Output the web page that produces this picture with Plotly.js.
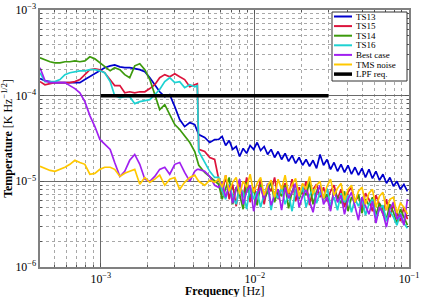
<!DOCTYPE html>
<html><head><meta charset="utf-8">
<script src="https://cdn.plot.ly/plotly-3.0.1.min.js"></script>
<style>html,body{margin:0;padding:0;background:#fff}#chart{width:422px;height:297px}</style>
</head><body><div id="chart"></div>
<script>
// Frequency grid [Hz]
const freq = [4.03e-4,4.34e-4,4.68e-4,5.04e-4,5.43e-4,5.85e-4,6.30e-4,6.79e-4,7.31e-4,7.88e-4,8.49e-4,9.15e-4,9.86e-4,1.06e-3,1.15e-3,1.23e-3,1.33e-3,1.43e-3,1.54e-3,1.66e-3,1.79e-3,1.93e-3,2.08e-3,2.24e-3,2.41e-3,2.60e-3,2.80e-3,3.02e-3,3.25e-3,3.50e-3,3.78e-3,4.07e-3,4.23e-3,4.32e-3,4.72e-3,5.09e-3,5.48e-3,
5.82e-3,6.13e-3,6.46e-3,6.81e-3,7.17e-3,7.56e-3,7.96e-3,8.39e-3,8.84e-3,9.31e-3,9.81e-3,1.034e-2,1.089e-2,1.148e-2,1.209e-2,1.274e-2,1.342e-2,1.414e-2,1.490e-2,1.570e-2,1.654e-2,1.743e-2,1.837e-2,1.935e-2,2.039e-2,2.148e-2,2.263e-2,2.384e-2,2.512e-2,2.647e-2,2.789e-2,2.938e-2,3.096e-2,3.262e-2,3.436e-2,3.621e-2,3.815e-2,4.019e-2,4.234e-2,4.461e-2,4.700e-2,4.952e-2,5.218e-2,5.497e-2,5.792e-2,6.102e-2,6.429e-2,6.776e-2,7.138e-2,7.520e-2,7.925e-2,8.349e-2,8.797e-2,9.268e-2,9.766e-2];

// Temperature noise [K Hz^-1/2]
const ts13 = [1.58e-4,1.50e-4,1.46e-4,1.42e-4,1.42e-4,1.42e-4,1.42e-4,1.42e-4,1.42e-4,1.54e-4,1.66e-4,1.80e-4,1.95e-4,2.12e-4,2.23e-4,2.29e-4,2.17e-4,2.12e-4,2.12e-4,2.06e-4,2.01e-4,1.90e-4,1.62e-4,1.34e-4,1.11e-4,9.74e-5,1.03e-4,7.45e-5,5.26e-5,4.36e-5,4.85e-5,4.60e-5,3.71e-5,3.52e-5,3.25e-5,2.84e-5,3.08e-5,
3.08e-5,3.34e-5,2.62e-5,3.00e-5,2.36e-5,2.55e-5,1.95e-5,2.42e-5,2.12e-5,2.62e-5,2.36e-5,2.84e-5,2.29e-5,2.55e-5,2.06e-5,2.36e-5,1.90e-5,2.23e-5,1.80e-5,2.12e-5,1.71e-5,2.01e-5,1.62e-5,1.90e-5,1.54e-5,1.80e-5,1.50e-5,1.76e-5,1.42e-5,2.06e-5,1.54e-5,1.80e-5,1.38e-5,1.66e-5,1.31e-5,1.58e-5,1.27e-5,1.54e-5,1.21e-5,1.46e-5,1.18e-5,1.42e-5,1.11e-5,1.38e-5,1.08e-5,1.31e-5,1.03e-5,1.21e-5,9.48e-6,1.11e-5,8.75e-6,1.00e-5,8.07e-6,9.23e-6,7.65e-6];
const ts15 = [1.46e-4,1.34e-4,1.38e-4,1.42e-4,1.42e-4,1.42e-4,1.42e-4,1.46e-4,1.54e-4,1.76e-4,2.01e-4,2.06e-4,2.01e-4,1.85e-4,1.54e-4,1.31e-4,1.31e-4,1.08e-4,1.11e-4,1.08e-4,1.11e-4,1.11e-4,1.21e-4,1.34e-4,1.62e-4,1.76e-4,1.66e-4,1.80e-4,1.66e-4,1.54e-4,1.27e-4,1.34e-4,1.38e-4,2.36e-5,2.23e-5,1.90e-5,1.80e-5,
1.06e-5,7.06e-6,1.18e-5,6.18e-6,9.23e-6,5.12e-6,9.74e-6,6.52e-6,1.11e-5,5.70e-6,8.52e-6,6.87e-6,1.06e-5,5.40e-6,8.99e-6,7.65e-6,1.11e-5,6.18e-6,8.07e-6,9.48e-6,6.69e-6,1.06e-5,5.85e-6,8.52e-6,7.06e-6,1.00e-5,5.26e-6,8.07e-6,9.23e-6,6.52e-6,8.52e-6,5.85e-6,7.65e-6,8.99e-6,6.18e-6,8.07e-6,4.99e-6,7.45e-6,8.52e-6,5.70e-6,6.87e-6,4.73e-6,7.25e-6,6.18e-6,4.48e-6,6.87e-6,5.40e-6,4.13e-6,6.18e-6,3.82e-6,5.26e-6,4.25e-6,3.43e-6,4.99e-6,3.62e-6];
const ts14 = [2.77e-4,2.62e-4,2.49e-4,2.42e-4,2.42e-4,2.49e-4,2.49e-4,2.55e-4,2.49e-4,2.55e-4,2.84e-4,2.69e-4,2.42e-4,2.17e-4,1.95e-4,2.12e-4,2.01e-4,1.76e-4,1.62e-4,2.23e-4,2.36e-4,2.01e-4,1.54e-4,1.03e-4,6.87e-5,7.86e-5,6.01e-5,4.60e-5,4.03e-5,3.34e-5,2.84e-5,2.23e-5,1.80e-5,1.54e-5,1.27e-5,1.14e-5,1.00e-5,
9.23e-6,6.18e-6,8.07e-6,1.11e-5,5.40e-6,8.52e-6,7.06e-6,4.73e-6,9.74e-6,6.52e-6,8.07e-6,5.26e-6,9.23e-6,6.18e-6,7.45e-6,1.00e-5,5.70e-6,8.07e-6,6.69e-6,8.99e-6,4.85e-6,7.65e-6,9.23e-6,6.18e-6,8.07e-6,6.87e-6,9.74e-6,5.40e-6,7.65e-6,8.52e-6,6.18e-6,7.06e-6,4.73e-6,8.07e-6,6.52e-6,5.55e-6,7.65e-6,4.48e-6,6.52e-6,5.85e-6,7.06e-6,4.25e-6,6.18e-6,5.26e-6,6.52e-6,4.03e-6,5.55e-6,4.73e-6,3.62e-6,5.40e-6,4.36e-6,3.25e-6,4.73e-6,3.82e-6,3.08e-6];
const ts16 = [1.85e-4,1.46e-4,1.46e-4,1.46e-4,1.54e-4,1.76e-4,1.85e-4,1.90e-4,1.95e-4,1.95e-4,2.01e-4,2.01e-4,1.95e-4,1.85e-4,1.46e-4,1.00e-4,9.48e-5,9.74e-5,9.74e-5,8.07e-5,8.52e-5,8.75e-5,8.99e-5,1.03e-4,1.18e-4,1.46e-4,1.62e-4,1.42e-4,1.46e-4,1.24e-4,1.34e-4,1.27e-4,1.31e-4,2.23e-5,1.66e-5,1.31e-5,1.11e-5,
1.11e-5,7.65e-6,6.18e-6,9.23e-6,6.69e-6,5.40e-6,8.52e-6,7.45e-6,4.73e-6,8.99e-6,6.18e-6,7.65e-6,4.99e-6,7.06e-6,8.99e-6,4.60e-6,7.65e-6,6.34e-6,8.52e-6,5.40e-6,7.06e-6,4.48e-6,8.07e-6,6.52e-6,8.75e-6,4.99e-6,6.87e-6,8.07e-6,5.55e-6,7.45e-6,6.18e-6,8.29e-6,5.26e-6,6.52e-6,4.60e-6,7.25e-6,5.70e-6,6.87e-6,4.36e-6,6.18e-6,5.12e-6,6.52e-6,4.03e-6,5.40e-6,6.18e-6,3.71e-6,4.73e-6,5.26e-6,3.43e-6,4.48e-6,3.82e-6,3.08e-6,4.25e-6,3.25e-6,2.84e-6];
const bestCase = [2.12e-4,1.50e-4,1.42e-4,1.42e-4,1.42e-4,1.42e-4,1.31e-4,1.21e-4,1.08e-4,8.52e-5,5.85e-5,4.36e-5,3.08e-5,2.69e-5,2.36e-5,1.66e-5,1.14e-5,1.31e-5,1.76e-5,2.06e-5,1.58e-5,1.06e-5,1.00e-5,1.14e-5,1.38e-5,1.46e-5,1.21e-5,1.58e-5,1.66e-5,1.27e-5,1.00e-5,1.31e-5,1.38e-5,1.38e-5,1.31e-5,1.14e-5,8.99e-6,
8.52e-6,9.74e-6,6.52e-6,8.99e-6,5.55e-6,8.07e-6,1.06e-5,5.40e-6,7.65e-6,8.99e-6,4.48e-6,7.06e-6,8.52e-6,6.18e-6,9.48e-6,5.26e-6,6.87e-6,8.07e-6,4.60e-6,8.52e-6,6.34e-6,7.45e-6,9.48e-6,4.99e-6,6.69e-6,8.07e-6,5.85e-6,4.36e-6,7.06e-6,8.99e-6,5.40e-6,6.52e-6,4.48e-6,8.07e-6,5.70e-6,6.87e-6,4.13e-6,6.18e-6,7.45e-6,4.99e-6,3.52e-6,6.52e-6,5.26e-6,4.13e-6,5.85e-6,3.25e-6,4.99e-6,4.25e-6,2.92e-6,4.73e-6,5.70e-6,3.62e-6,4.13e-6,3.08e-6,6.18e-6];
const tmsNoise = [1.50e-5,1.42e-5,1.34e-5,1.31e-5,1.38e-5,1.46e-5,1.58e-5,1.76e-5,1.66e-5,1.58e-5,1.21e-5,1.24e-5,1.38e-5,1.46e-5,1.46e-5,1.38e-5,1.14e-5,1.24e-5,1.31e-5,1.38e-5,9.23e-6,1.11e-5,9.74e-6,1.06e-5,1.18e-5,8.99e-6,1.06e-5,1.11e-5,8.07e-6,9.74e-6,1.11e-5,1.18e-5,1.06e-5,1.00e-5,8.99e-6,1.03e-5,9.74e-6,
1.06e-5,8.52e-6,1.18e-5,7.65e-6,9.74e-6,1.11e-5,7.06e-6,1.00e-5,8.52e-6,1.21e-5,7.45e-6,9.48e-6,1.11e-5,6.87e-6,8.99e-6,1.03e-5,6.52e-6,1.06e-5,8.07e-6,1.18e-5,7.25e-6,9.23e-6,1.08e-5,6.69e-6,9.48e-6,8.07e-6,1.14e-5,7.06e-6,8.99e-6,1.00e-5,6.34e-6,8.75e-6,1.06e-5,6.87e-6,8.29e-6,9.48e-6,6.01e-6,8.07e-6,8.99e-6,5.70e-6,7.65e-6,8.52e-6,5.40e-6,7.25e-6,8.07e-6,4.99e-6,6.69e-6,7.45e-6,4.60e-6,6.18e-6,6.52e-6,4.25e-6,5.55e-6,4.99e-6,4.13e-6];
// LPF requirement
const lpfFreq = [1e-3, 3e-2];
const lpfVal = [1e-4, 1e-4];

const names = ['TS13','TS15','TS14','TS16','Best case','TMS noise','LPF req.'];
const colors = ['#0000cc','#dc143c','#3c9a0c','#1ed2d2','#a020f0','#ffc800','#000000'];
const series = [ts13, ts15, ts14, ts16, bestCase, tmsNoise];

const traces = series.map((v,i)=>({x:freq,y:v,type:'scatter',mode:'lines',name:names[i],
  line:{color:colors[i],width:1.7},showlegend:false,hoverinfo:'skip'}));
traces.push({x:lpfFreq,y:lpfVal,type:'scatter',mode:'lines',name:names[6],
  line:{color:colors[6],width:3.5},showlegend:false,hoverinfo:'skip'});

const FONT = 'Liberation Serif, DejaVu Serif, serif';
const M = {l:40, r:13, t:10, b:30};
const W = 422, H = 297;
const pw = W - M.l - M.r, ph = H - M.t - M.b;
const px = x => (x - M.l)/pw;
const py = y => 1 - (y - M.t)/ph;

// custom compact legend
const shapes = [{type:'rect',xref:'paper',yref:'paper',x0:px(332),x1:px(407),y0:py(81),y1:py(12),
  line:{color:'#333',width:1},fillcolor:'#fff',layer:'above'}];
const annotations = [];
names.forEach((n,i)=>{
  const yy = 16.5 + i*9.6;
  shapes.push({type:'line',xref:'paper',yref:'paper',x0:px(334),x1:px(352),y0:py(yy),y1:py(yy),
    line:{color:colors[i],width:i===6?3.5:2},layer:'above'});
  annotations.push({xref:'paper',yref:'paper',x:px(353.5),y:py(yy),xanchor:'left',yanchor:'middle',
    text:n,showarrow:false,font:{family:FONT,size:9,color:'#000'}});
});
// x-axis title placed below tick labels
annotations.push({xref:'paper',yref:'paper',x:0.5,y:py(291),xanchor:'center',yanchor:'middle',
  text:'<b>Frequency</b> [Hz]',showarrow:false,font:{family:FONT,size:12,color:'#000'}});

const axisCommon = {
  type:'log', showline:true, linecolor:'#808080', linewidth:2, mirror:'allticks',
  ticks:'inside', ticklen:4, tickcolor:'#555', dtick:1, exponentformat:'power',
  showgrid:true, gridcolor:'#6a6a6a', gridwidth:1, zeroline:false,
  tickfont:{family:FONT,size:9.5,color:'#000'},
  minor:{dtick:'D1', showgrid:true, gridcolor:'#a8a8a8', griddash:'dot', gridwidth:1, ticks:'inside', ticklen:2, tickcolor:'#555'}
};

const layout = {
  width:W, height:H, margin:M, paper_bgcolor:'#fff', plot_bgcolor:'#fff',
  font:{family:FONT,color:'#000'}, showlegend:false,
  xaxis:Object.assign({}, axisCommon, {range:[Math.log10(4.03e-4), -1]}),
  yaxis:Object.assign({}, axisCommon, {range:[-6,-3],
    title:{text:'<b>Temperature</b> [K Hz<sup>−1/2</sup>]', font:{family:FONT,size:12}, standoff:2}}),
  shapes:shapes, annotations:annotations
};

Plotly.newPlot('chart', traces, layout, {staticPlot:true, displayModeBar:false});
</script>
</body></html>
